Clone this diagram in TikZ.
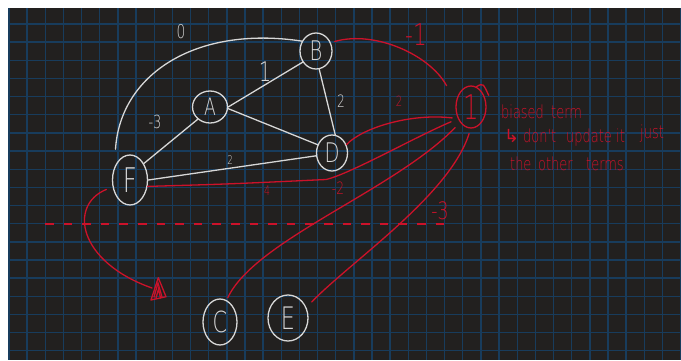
\documentclass[tikz,border=0pt]{standalone}
\usepackage{fontspec}
\usetikzlibrary{shapes.geometric}
\newfontfamily\handfont[FakeStretch=0.72]{DejaVu Sans ExtraLight}
\newfontfamily\symfont{DejaVu Sans}
\definecolor{bgdark}{RGB}{34,32,31}
\definecolor{gridblue}{RGB}{24,60,92}
\definecolor{chalk}{RGB}{215,215,215}
\definecolor{ink}{RGB}{204,18,42}
\tikzset{
  gridline/.style={draw=gridblue, line width=1.4pt},
  vert/.style={ellipse, draw=chalk, line width=1.3pt, inner sep=0pt, text=chalk,
    font={\handfont\fontsize{#1}{#1}\selectfont}},
  wline/.style={draw=chalk, line width=1.3pt, line cap=round},
  rline/.style={draw=ink, line width=1.3pt, line cap=round},
  wlbl/.style={inner sep=0pt, text=chalk, font={\handfont\fontsize{#1}{#1}\selectfont}},
  rlbl/.style={inner sep=0pt, text=ink, font={\handfont\fontsize{#1}{#1}\selectfont}},
  note/.style={inner sep=0pt, text=ink, anchor=base west, font={\handfont\fontsize{18}{18}\selectfont}}
}
\begin{document}
\begin{tikzpicture}[x=1pt,y=-1pt]
\useasboundingbox (0,0) rectangle (681,360);
\fill[white] (0,0) rectangle (681,360);
\fill[bgdark] (8,8) rectangle (681,360);
\begin{scope}
  \clip (8,8) rectangle (681,360);
  \foreach \i in {0,...,37} \draw[gridline] ({9+18.15*\i},8) -- ({9+18.15*\i},360);
  \foreach \j in {1,...,19} \draw[gridline] (8,{5.85+18.15*\j}) -- (681,{5.85+18.15*\j});
\end{scope}

% dashed line (dashes laid from dashL towards dashR)
\coordinate (dashL) at (45,224);
\coordinate (dashR) at (444,224);
\foreach \k in {0,...,21}
  \fill[ink] ([shift={({18.6*\k},-0.9)}]dashL) rectangle ([shift={({18.6*\k+8.5},0.9)}]dashL);

% vertices
\node[vert=27, minimum width=32pt, minimum height=36pt] (B) at (316,51) {B};
\node[vert=24, minimum width=35pt, minimum height=32pt] (A) at (210,107) {A};
\node[vert=27, minimum width=31pt, minimum height=36pt] (D) at (332,153) {D};
\node[vert=34, minimum width=35pt, minimum height=50pt] (F) at (130,180) {F};
\node[vert=29, minimum width=34pt, minimum height=46pt] (C) at (220,322) {C};
\node[vert=31, minimum width=40pt, minimum height=46pt] (E) at (288,318) {E};
\node[vert=34, draw=ink, text=ink, minimum width=30pt, minimum height=42pt] (One) at (471,107) {1};
\draw[rline] (One.75) .. controls (483,83) .. ([shift={(5,1)}]One.45);

% white edges
\draw[wline] ([shift={(-3,-11)}]F.120) .. controls (120,75) and (195,25) .. (B.145);
\draw[wline] (A.east) -- (B.220);
\draw[wline] (A.-5) -- (D.150);
\draw[wline] (A.225) -- (F.50);
\draw[wline] (B.-80) -- (D.80);
\draw[wline] (F.east) -- (D.190);

% red edges
\draw[rline] ([shift={(4,-1)}]B.30) .. controls (375,30) and (430,55) .. ([shift={(-10,-13)}]One.150);
\draw[rline] (D.30) .. controls (362,128) and (410,113) .. ([shift={(-4,4)}]One.205);
\coordinate (fbend) at (326,179.5);
\draw[rline] (F.-20) .. controls (230,184) .. (fbend) .. controls (350,174) and (415,137) .. ([shift={(-6,5)}]One.215);
\draw[rline] ([shift={(0,-3)}]C.70) .. controls (255,240) and (395,190) .. ([shift={(-5,5)}]One.235);
\draw[rline] ([shift={(7,-2)}]E.40) .. controls (350,262) and (450,195) .. ([shift={(0,5)}]One.265);

% arrow from F
\coordinate (tip) at (152,288);
\draw[rline] ([shift={(-6,3)}]F.200) .. controls (68,205) and (78,262) .. (tip);
\draw[rline, line join=round] (151,300) -- (158.3,277.7) -- (166,296.7) -- cycle;
\draw[rline] (154,297) -- (158,283) -- (162,297);
\draw[rline] (156,298) -- (158.5,289) -- (160.5,298);

% white labels
\node[wlbl=19] (w0) at (181,32) {0};
\node[wlbl=27] (w1) at (265,72) {1};
\node[wlbl=18] (w3) at (155,122) {-3};
\node[wlbl=17] (w2a) at (341,101) {2};
\node[wlbl=12] (w2b) at (230,160) {2};

% red labels
\node[rlbl=30] (r1) at (416,35) {-1};
\node[rlbl=14] (r2) at (399,101) {2};
\node[rlbl=13] (r4) at (267,191) {4};
\node[rlbl=17] (r2b) at (338,188) {-2};
\node[rlbl=24] (r3) at (440,211) {-3};

% notes
\node[note] (t1) at (501,118) {biased};
\node[note] (t2) at (551,118) {term};
\node[note, font={\symfont\fontsize{18}{18}\selectfont}] (t3) at (504,142) {↳};
\node[note] (t4) at (523,142) {don't};
\node[note] (t5) at (566,142) {update};
\node[note] (t6) at (616,142) {it};
\node[note] (t7) at (640,138) {just};
\node[note] (t8) at (510,170) {the};
\node[note] (t9) at (538,170) {other};
\node[note] (t10) at (586,170) {terms};
\end{tikzpicture}
\end{document}
